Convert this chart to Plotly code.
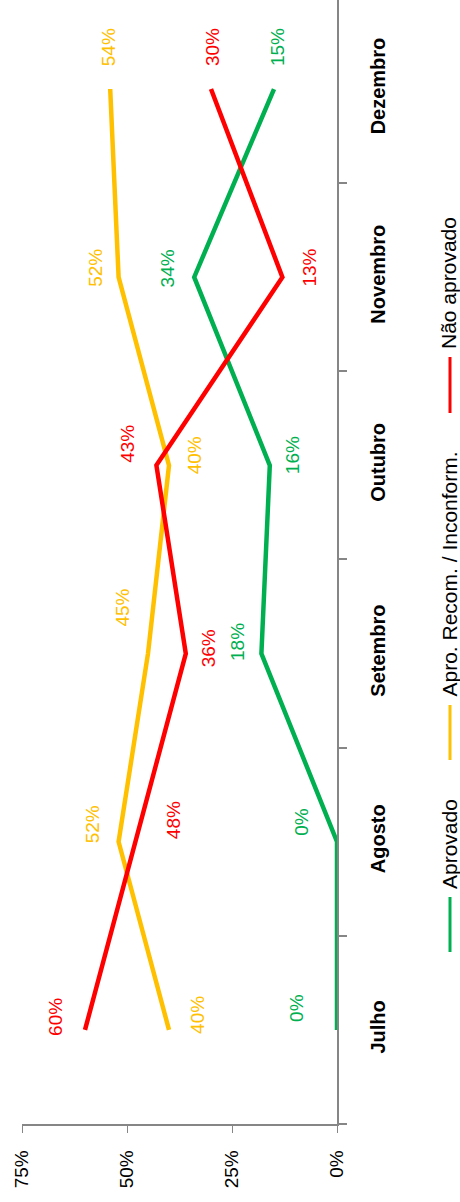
import plotly.graph_objects as go

# ---------------- data ----------------
months = ["Julho", "Agosto", "Setembro", "Outubro", "Novembro", "Dezembro"]
aprovado = [0, 0, 18, 16, 34, 15]
apro_recom = [40, 52, 45, 40, 52, 54]
nao_aprovado = [60, 48, 36, 43, 13, 30]
series_names = ["Aprovado", "Apro. Recom. / Inconform.", "Não aprovado"]
pct_ticks = [0, 25, 50, 75]
pct_tick_labels = ["0%", "25%", "50%", "75%"]

# ---------------- styles / layout ----------------
colors = ["#00B050", "#FFC000", "#FF0000"]
series_values = [aprovado, apro_recom, nao_aprovado]
FONT = "Liberation Sans, Arial, sans-serif"
AXIS_GREY = "#868686"

W, H = 460, 1202
ML, MR, MT, MB = 22, 123, 0, 78
PW, PH = W - ML - MR, H - MT - MB

# label offsets in screen pixels (dx to the right, dy downward)
label_offsets = [
    [(-40, -22), (-35, -20), (-24, -12), (23, -10), (-27, -9), (3, -42)],
    [(29, -15), (-26, -17), (-25, -46), (25, -10), (-23, -9), (-2, -42)],
    [(-29, -13), (38, -22), (23, -5), (-29, -22), (27, -10), (1, -42)],
]

# legend geometry in screen pixels: (line x, line y bottom, line y top)
legend_geom = [(450, 952, 897), (450, 760, 705), (450, 413, 357)]


def px_x(px):
    return (px - ML) / PW


def px_y(py):
    return (H - MB - py) / PH


fig = go.Figure()

for name, vals, col in zip(series_names, series_values, colors):
    fig.add_trace(go.Scatter(
        x=vals, y=months, mode="lines", name=name,
        line=dict(color=col, width=4.5),
        showlegend=False, hoverinfo="skip",
    ))

annotations = []
for vals, col, offs in zip(series_values, colors, label_offsets):
    for m, v, (dx, dy) in zip(months, vals, offs):
        annotations.append(dict(
            x=v, y=m, xref="x", yref="y", text=f"{v}%", showarrow=False,
            textangle=-90, xshift=dx, yshift=-dy,
            font=dict(family=FONT, size=19, color=col),
            xanchor="center", yanchor="middle",
        ))

shapes = []
for name, col, (lx, yb, yt) in zip(series_names, colors, legend_geom):
    shapes.append(dict(
        type="line", xref="paper", yref="paper",
        x0=px_x(lx), x1=px_x(lx), y0=px_y(yb), y1=px_y(yt),
        line=dict(color=col, width=3),
    ))
    annotations.append(dict(
        x=px_x(lx - 1), y=px_y(yt - 6), xref="paper", yref="paper",
        text=name, showarrow=False, textangle=-90,
        xanchor="center", yanchor="bottom",
        font=dict(family=FONT, size=21, color="#000000"),
    ))

fig.update_layout(
    width=W, height=H,
    margin=dict(l=ML, r=MR, t=MT, b=MB, pad=0),
    paper_bgcolor="white", plot_bgcolor="white",
    showlegend=False,
    annotations=annotations, shapes=shapes,
    xaxis=dict(
        range=[75, 0], tickmode="array", tickvals=pct_ticks, ticktext=pct_tick_labels,
        tickangle=-90, ticks="outside", ticklen=7, tickcolor=AXIS_GREY, tickwidth=1,
        showline=True, linecolor=AXIS_GREY, linewidth=1.5,
        showgrid=False, zeroline=False,
        tickfont=dict(family=FONT, size=19, color="#000000"),
        ticklabelstandoff=10,
    ),
    yaxis=dict(
        type="category", categoryorder="array", categoryarray=months,
        range=[-0.5, 5.473], side="right",
        tickangle=-90, ticks="outside", tickson="boundaries", ticklen=8,
        tickcolor=AXIS_GREY, tickwidth=1.5,
        showline=True, linecolor=AXIS_GREY, linewidth=1.5,
        showgrid=False, zeroline=False,
        tickfont=dict(family=FONT, size=20, color="#000000", weight="bold"),
        ticklabelstandoff=22,
    ),
)

fig.write_html("out.html")
